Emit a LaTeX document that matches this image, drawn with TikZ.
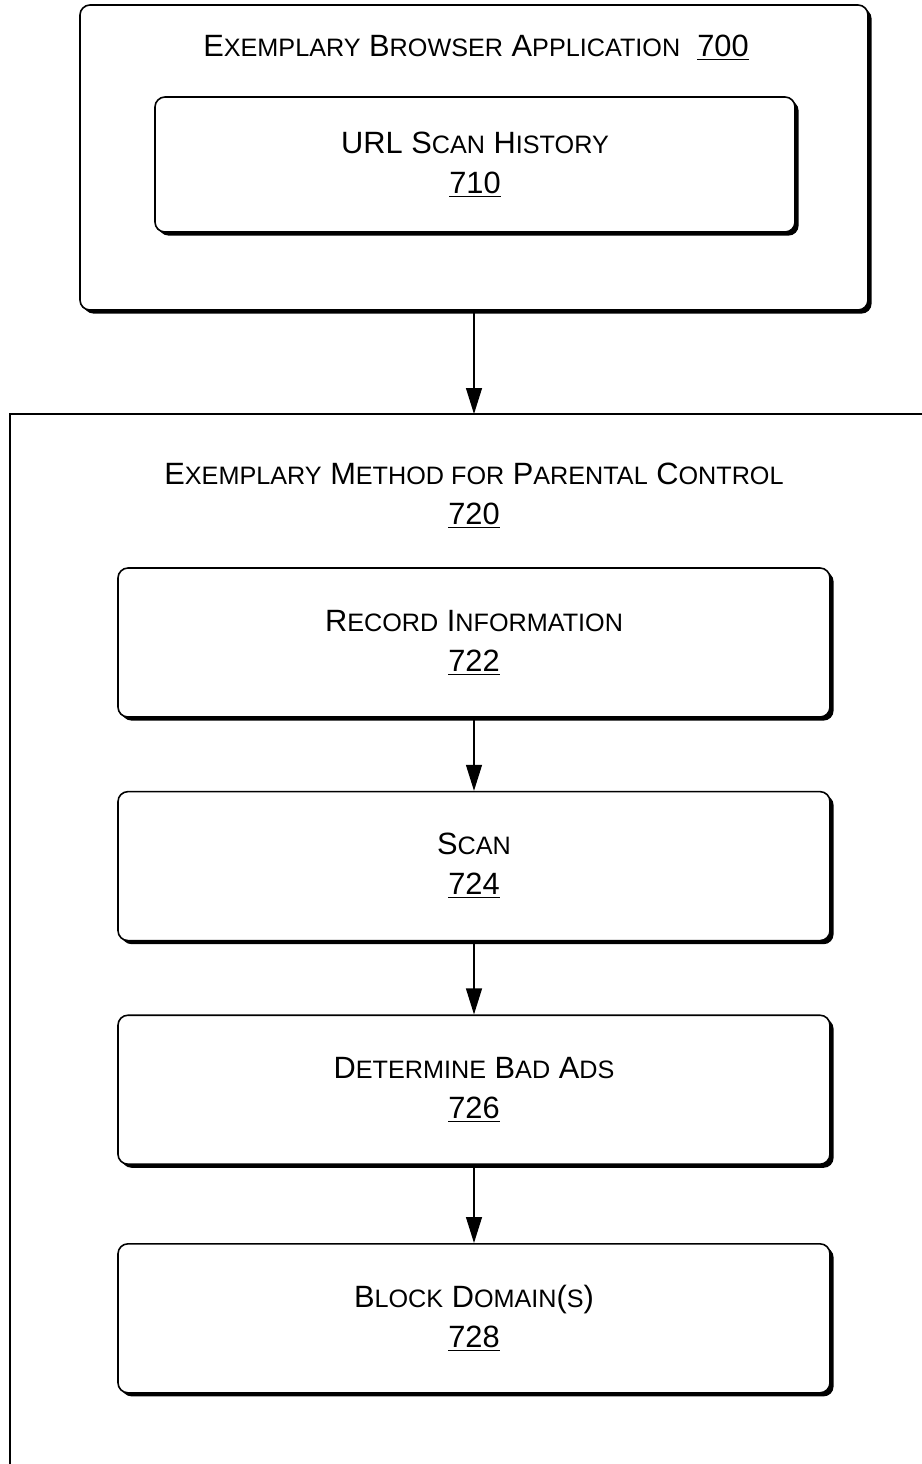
\documentclass[tikz,border=0pt]{standalone}
\usepackage{fontspec}
\setmainfont{Liberation Sans}
\usetikzlibrary{positioning,shadows,arrows.meta}

\newcommand{\smc}[1]{{\fontsize{12.6}{20}\selectfont #1}}

\tikzset{
  stepbox/.style={draw, line width=0.8pt, rounded corners=5pt, fill=white,
    minimum width=356pt, minimum height=74.5pt, align=center,
    font=\fontsize{15.4}{20}\selectfont,
    drop shadow={shadow xshift=1.8pt, shadow yshift=-1.8pt, opacity=1, fill=black}},
  flow/.style={-{Triangle[length=13pt,width=8pt]}, line width=0.6pt},
  heading/.style={align=center, font=\fontsize{15.4}{20}\selectfont},
}

\begin{document}
\begin{tikzpicture}[x=0.5pt, y=-0.5pt]
  \useasboundingbox (0,0) rectangle (922,1464);

  % browser application
  \node[stepbox, minimum width=394pt, minimum height=152.5pt] (app) at (474,157.5) {};
  \node[heading] (apptitle) at (476,48) {E\smc{XEMPLARY} B\smc{ROWSER} A\smc{PPLICATION}\ \ \underline{700}};
  \node[stepbox, minimum width=320pt, minimum height=67.5pt] (hist) at (475,164.5)
    {URL S\smc{CAN} H\smc{ISTORY}\\\underline{710}};

  % method frame, cut off at the page edge
  \coordinate (frametop) at (474,414);
  \draw[line width=0.8pt] (922,414) -- (10,414) -- (10,1464);
  \node[heading] (methtitle) at (474,496)
    {E\smc{XEMPLARY} M\smc{ETHOD FOR} P\smc{ARENTAL} C\smc{ONTROL}\\\underline{720}};

  \node[stepbox] (rec) at (474,642.5) {R\smc{ECORD} I\smc{NFORMATION}\\\underline{722}};
  \node[stepbox, below=36.5pt of rec] (scan) {S\smc{CAN}\\\underline{724}};
  \node[stepbox, below=36.5pt of scan] (bad) {D\smc{ETERMINE} B\smc{AD} A\smc{DS}\\\underline{726}};
  \node[stepbox, below=39pt of bad] (block) {B\smc{LOCK} D\smc{OMAIN}(\smc{S})\\\underline{728}};

  \draw[flow] (app) -- (frametop);
  \draw[flow] (rec) -- (scan);
  \draw[flow] (scan) -- (bad);
  \draw[flow] (bad) -- (block);
\end{tikzpicture}
\end{document}
